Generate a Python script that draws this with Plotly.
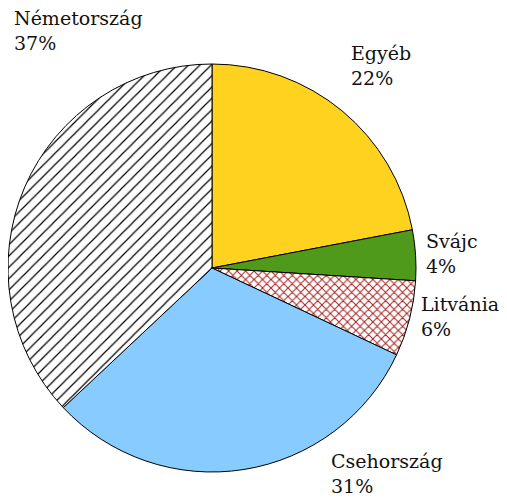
import plotly.graph_objects as go

labels = ["Egyéb", "Svájc", "Litvánia", "Csehország", "Németország"]
values = [22, 4, 6, 31, 37]
colors = ["#FFD21F", "#4F9A1A", "#FFFFFF", "#87CBFF", "#FFFFFF"]
shapes = ["", "", "x", "", "/"]
fgcolors = ["#000000", "#000000", "#A52020", "#000000", "#000000"]
label_pos = [(349, 40), (424, 228), (419, 291), (329, 448), (12, 5)]

W, H = 507, 500
OFF = 8  # browser body margin
cx, cy, r = 212 - OFF, 268 - OFF, 204

fig = go.Figure(go.Pie(
    labels=labels, values=values, sort=False, direction="clockwise", rotation=0,
    textinfo="none", hoverinfo="label+percent", showlegend=False,
    marker=dict(colors=colors, line=dict(color="#000000", width=1),
                pattern=dict(shape=shapes, fgcolor=fgcolors, bgcolor=colors,
                             size=[9, 9, 6, 9, 8], solidity=[0.3, 0.3, 0.3, 0.3, 0.15])),
    domain=dict(x=[(cx - r) / W, (cx + r) / W], y=[1 - (cy + r) / H, 1 - (cy - r) / H]),
))

total = sum(values)
for lab, v, (x, y) in zip(labels, values, label_pos):
    fig.add_annotation(x=(x - OFF) / W, y=1 - (y - OFF) / H, xref="paper", yref="paper",
                       xanchor="left", yanchor="top", align="left", showarrow=False,
                       text=f"{lab}<br>{round(100 * v / total)}%",
                       font=dict(family="DejaVu Serif", size=19, color="#111111"))

fig.update_layout(width=W, height=H, margin=dict(l=0, r=0, t=0, b=0),
                  font=dict(family="DejaVu Serif"),
                  paper_bgcolor="white", plot_bgcolor="white")
fig.write_html("out.html")
